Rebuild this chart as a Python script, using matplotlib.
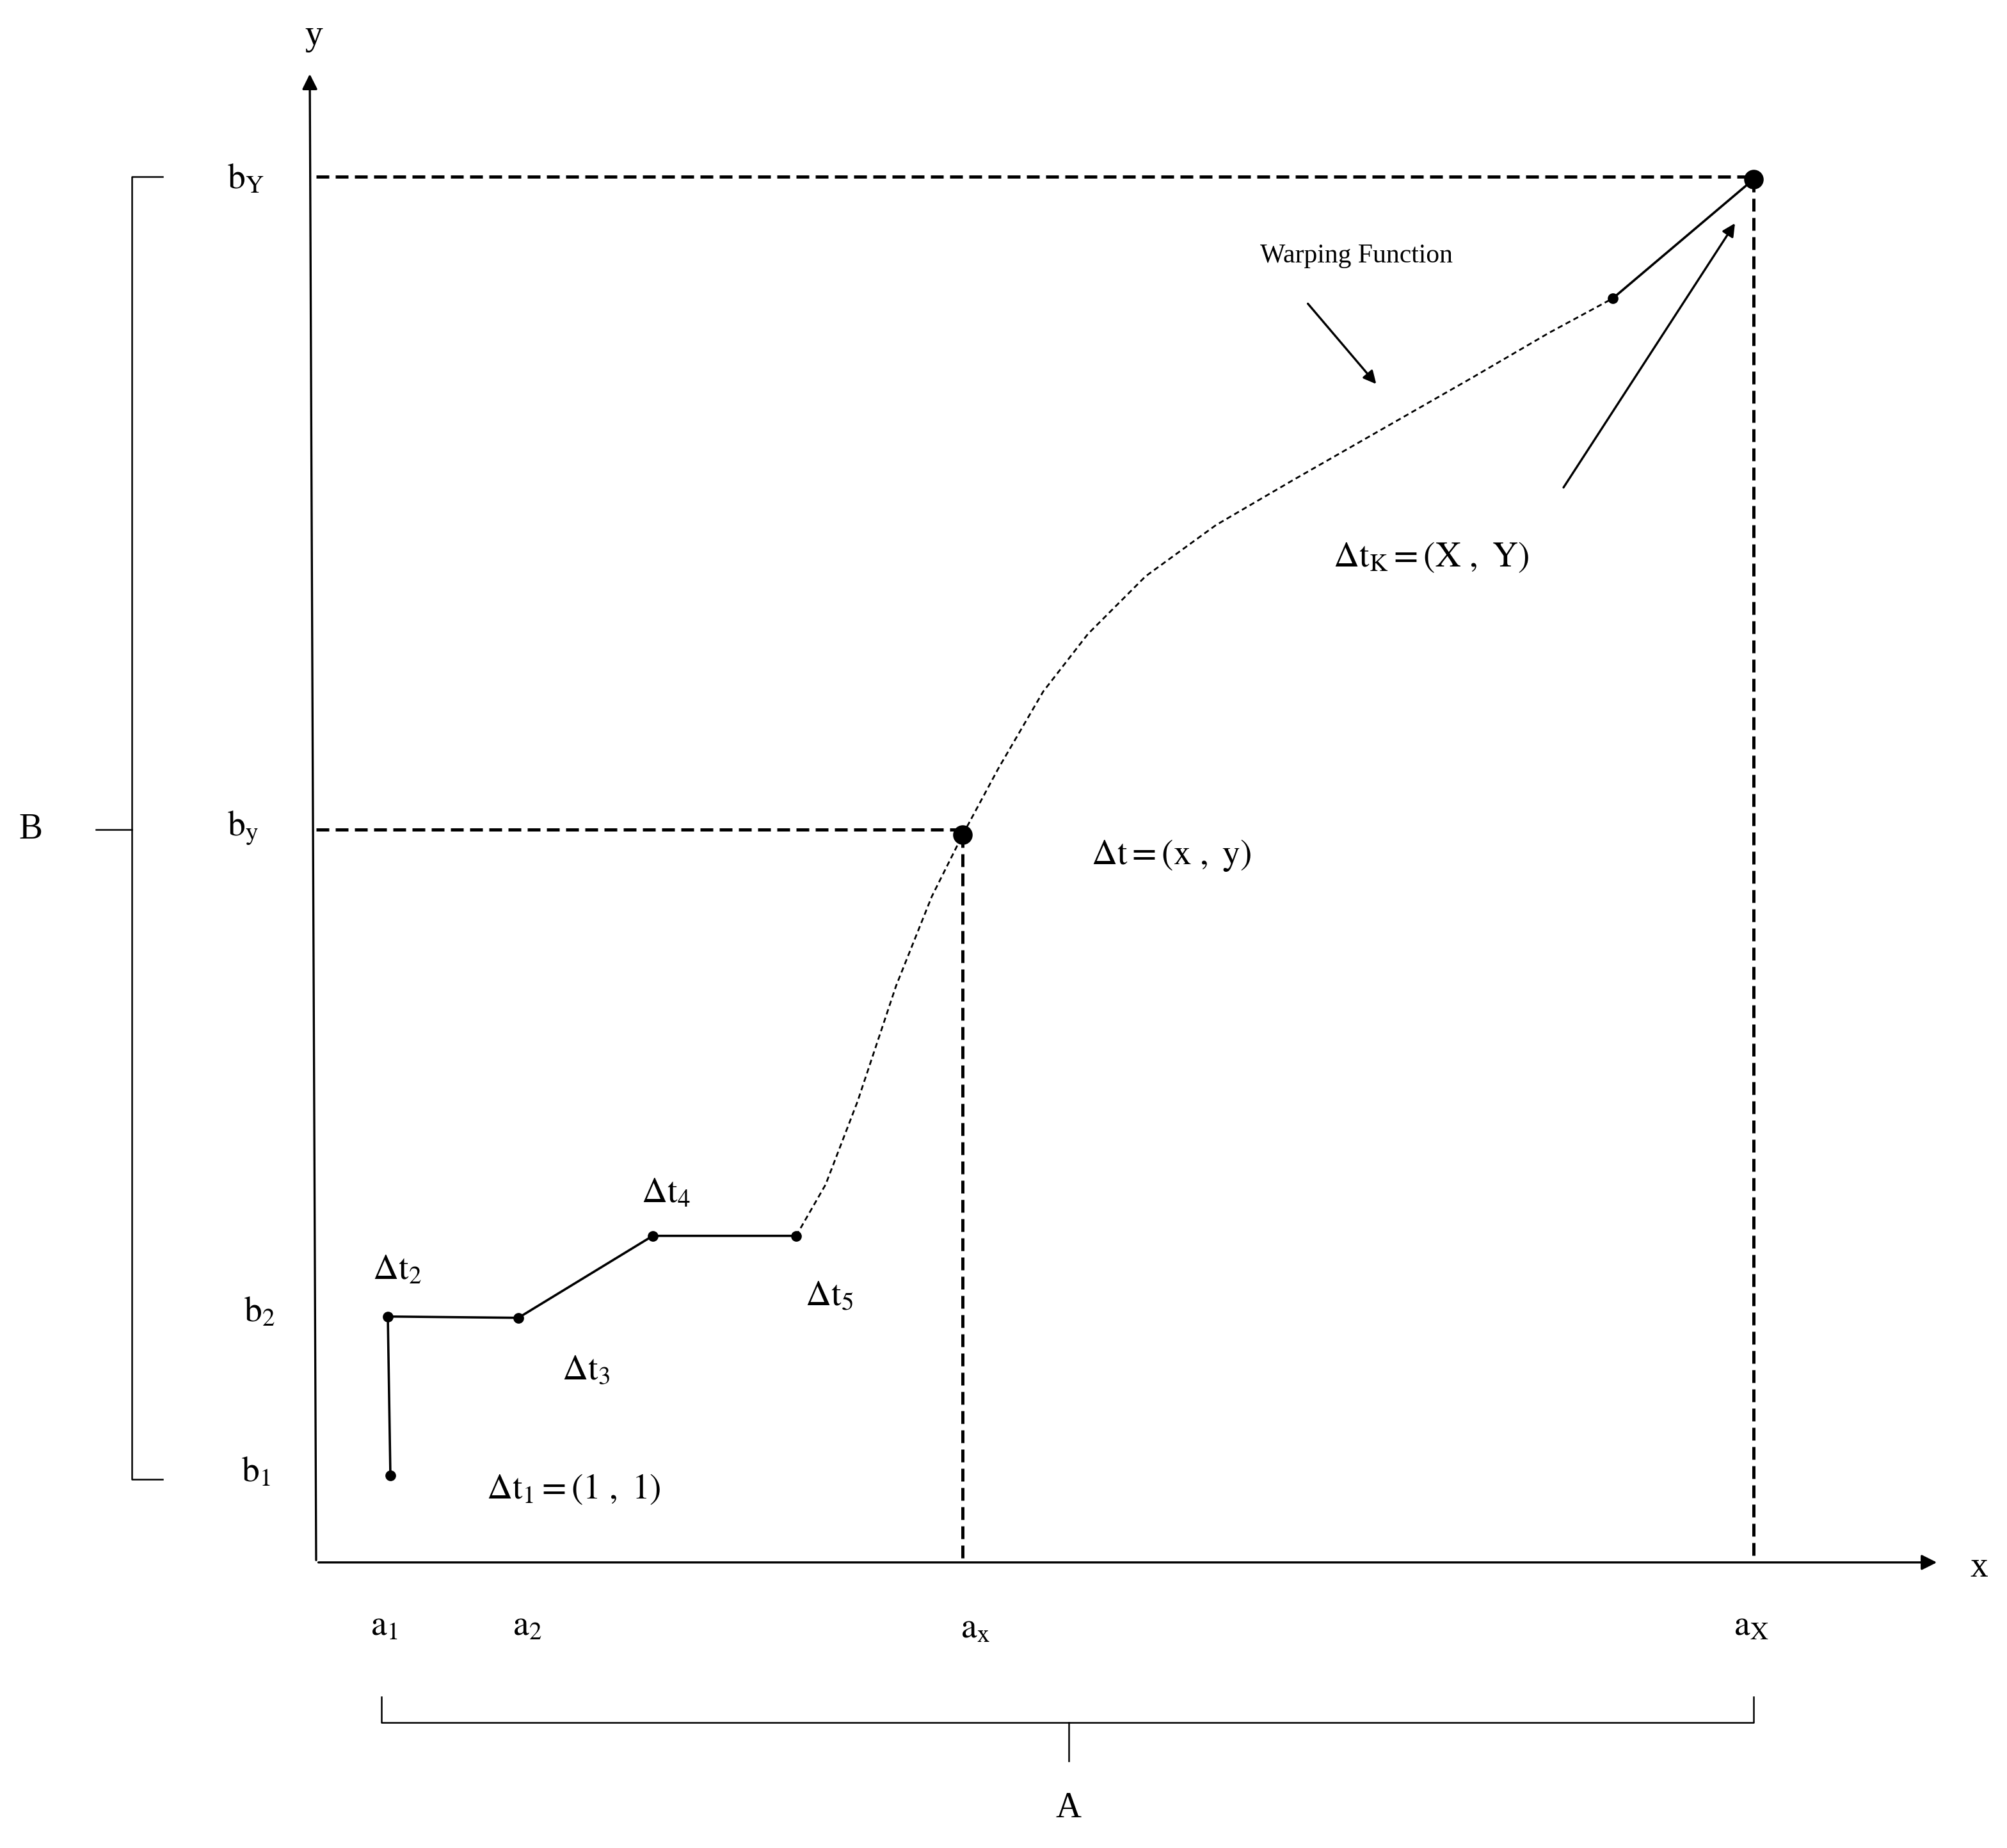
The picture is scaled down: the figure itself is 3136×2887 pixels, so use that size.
import matplotlib.pyplot as plt

plt.rcParams['font.family'] = ['Liberation Serif', 'DejaVu Serif']
plt.rcParams['mathtext.fontset'] = 'stix'

W, H = 1568, 1443

# path points (pixel coords of the drawing, y downward)
path_x = [305, 303, 405, 510, 622]
path_y = [1152, 1028, 1029, 965, 965]
curve_x = [622, 645, 670, 700, 728, 752, 780, 815, 850, 895, 950, 1010, 1080, 1150, 1210, 1260]
curve_y = [965, 925, 860, 770, 700, 652, 600, 540, 495, 450, 410, 375, 335, 295, 260, 233]
end_x = [1260, 1370]
end_y = [233, 140]
mid_pt = (752, 652)
last_pt = (1370, 140)

fig = plt.figure(figsize=(3136 / 200, 2887 / 200), dpi=200)
ax = fig.add_axes([0, 0, 1, 1])
ax.set_xlim(0, W)
ax.set_ylim(H, 0)
ax.axis('off')

k = dict(color='black')
# axes
ax.annotate('', xy=(242, 55), xytext=(247, 1221),
            arrowprops=dict(arrowstyle='-|>', lw=1.2, color='black', mutation_scale=18))
ax.annotate('', xy=(1516, 1220), xytext=(246, 1220),
            arrowprops=dict(arrowstyle='-|>', lw=1.2, color='black', mutation_scale=18))

# dashed guides
ax.plot([247, 1370], [138, 138], '--', lw=1.8, dashes=(4, 2), **k)
ax.plot([247, 752], [648, 648], '--', lw=1.8, dashes=(4, 2), **k)
ax.plot([752, 752], [652, 1220], '--', lw=1.8, dashes=(4, 2), **k)
ax.plot([1370, 1370], [140, 1220], '--', lw=1.8, dashes=(4, 2), **k)

# warping path
ax.plot(path_x, path_y, '-', lw=1.3, **k)
ax.plot(curve_x, curve_y, '--', lw=1.0, dashes=(3, 2), **k)
ax.plot(end_x, end_y, '-', lw=1.3, **k)
ax.plot(path_x + [1260], path_y + [233], 'o', ms=5, **k)
ax.plot(*mid_pt, 'o', ms=10, **k)
ax.plot(*last_pt, 'o', ms=10, **k)

# brackets
ax.plot([127, 103, 103, 127], [138, 138, 1155, 1155], lw=0.9, **k)
ax.plot([75, 103], [648, 648], lw=0.9, **k)
ax.plot([298, 298, 1370, 1370], [1325, 1345, 1345, 1325], lw=0.9, **k)
ax.plot([835, 835], [1345, 1375], lw=0.9, **k)

# arrows
ax.annotate('', xy=(1077, 302), xytext=(1020, 235),
            arrowprops=dict(arrowstyle='-|>', lw=1.2, color='black', mutation_scale=15))
ax.annotate('', xy=(1357, 172), xytext=(1220, 383),
            arrowprops=dict(arrowstyle='-|>', lw=1.2, color='black', mutation_scale=15))

fs = 20
t = dict(fontsize=fs, ha='center', va='center')
ax.text(24, 648, 'B', **t)
ax.text(835, 1412, 'A', **t)
ax.text(1546, 1224, 'x', **t)
ax.text(245, 28, 'y', **t)
ax.text(192, 140, r'$\mathrm{b_Y}$', **t)
ax.text(190, 647, r'$\mathrm{b_y}$', **t)
ax.text(203, 1025, r'$\mathrm{b_2}$', **t)
ax.text(200, 1150, r'$\mathrm{b_1}$', **t)
ax.text(300, 1270, r'$\mathrm{a_1}$', **t)
ax.text(412, 1270, r'$\mathrm{a_2}$', **t)
ax.text(762, 1272, r'$\mathrm{a_x}$', **t)
ax.text(1368, 1270, r'$\mathrm{a_X}$', **t)
ax.text(1060, 200, 'Warping Function', fontsize=15, ha='center', va='center')
ax.text(1118, 435, r'$\mathrm{\Delta t_K = (X\ ,\ Y)}$', **t)
ax.text(915, 668, r'$\mathrm{\Delta t = (x\ ,\ y)}$', **t)
ax.text(448, 1163, r'$\mathrm{\Delta t_1 = (1\ ,\ 1)}$', **t)
ax.text(310, 992, r'$\mathrm{\Delta t_2}$', **t)
ax.text(458, 1070, r'$\mathrm{\Delta t_3}$', **t)
ax.text(520, 932, r'$\mathrm{\Delta t_4}$', **t)
ax.text(648, 1012, r'$\mathrm{\Delta t_5}$', **t)

fig.savefig('out.png', dpi=200)
